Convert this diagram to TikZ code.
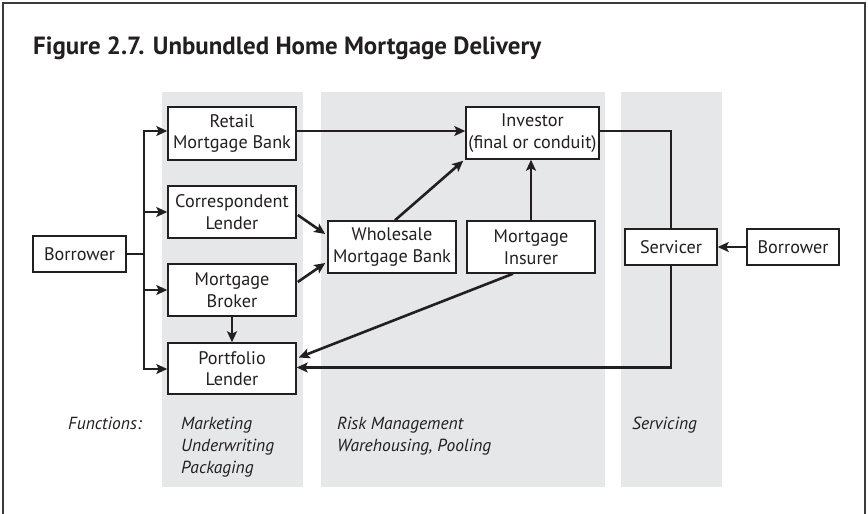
\documentclass[tikz,border=0pt]{standalone}
\usepackage{fontspec}
\setmainfont{PT Sans}
\usetikzlibrary{arrows.meta,calc}
\definecolor{band}{HTML}{E6E7E8}
\definecolor{ink}{HTML}{231F20}
\definecolor{framec}{HTML}{3A3A3A}
\begin{document}
\begin{tikzpicture}[x=1pt,y=-1pt,
  box/.style={draw=ink,line width=1.5pt,fill=white,align=center,inner sep=0pt,
    font=\fontsize{18.2}{21.5}\selectfont,text=ink},
  conn/.style={draw=ink,line width=2.6pt},
  arr/.style={conn,-{Stealth[length=11pt,width=10pt,inset=2.5pt]}},
  fn/.style={anchor=base west,inner sep=0pt,font=\fontsize{17.5}{22}\selectfont\itshape,text=ink}]
\useasboundingbox (0,0) rectangle (868,514);
\fill[white] (0,0) rectangle (868,514);
% bands
\fill[band] (162,92) rectangle (303,487);
\fill[band] (321,92) rectangle (605,487);
\fill[band] (621,92) rectangle (722,487);
% frame
\draw[framec,line width=2.5pt] (3,514) -- (3,3) -- (865,3) -- (865,514);
% title
\node[anchor=base west,inner sep=0pt,font=\fontsize{24.9}{28}\selectfont\bfseries,text=ink] (title) at (33,54) {Figure 2.7. Unbundled Home Mortgage Delivery};
% boxes
\node[box,minimum width=93pt,minimum height=36pt] (bl) at (79.5,254) {Borrower};
\node[box,minimum width=128pt,minimum height=53pt] (retail) at (232,133.5) {Retail\\Mortgage Bank};
\node[box,minimum width=128pt,minimum height=52pt] (corr) at (232,212) {Correspondent\\Lender};
\node[box,minimum width=128pt,minimum height=52pt] (broker) at (232,290) {Mortgage\\Broker};
\node[box,minimum width=128pt,minimum height=51pt] (port) at (232,368.5) {Portfolio\\Lender};
\node[box,minimum width=128pt,minimum height=52pt] (whole) at (392,247) {Wholesale\\Mortgage Bank};
\node[box,minimum width=128pt,minimum height=52pt] (ins) at (531,247) {Mortgage\\Insurer};
\node[box,minimum width=133pt,minimum height=52pt] (inv) at (532.5,133) {Investor\\(final or conduit)};
\node[box,minimum width=92pt,minimum height=36pt] (serv) at (671,247) {Servicer};
\node[box,minimum width=92pt,minimum height=36pt] (br) at (793,247) {Borrower};
% trunk
\coordinate (trT) at (144,131);
\coordinate (trB) at (144,369);
\draw[conn,line cap=rect] (trT) -- (trB);
\draw[conn] (bl.east) -- (bl.east -| trT);
\draw[arr] (trT) -- (trT -| retail.west);
\draw[arr] (trT |- corr) -- (corr);
\draw[arr] (trT |- broker) -- (broker);
\draw[arr] (trB) -- (trB -| port.west);
% other connectors
\draw[arr] ($(retail.east)+(0,-2.5)$) -- ($(retail.east -| inv.west)+(0,-2.5)$);
\draw[arr] ($(corr.east)+(1,3)$) -- ($(whole.west)+(-2,-13)$);
\draw[arr] ($(broker.east)+(1,-8)$) -- ($(whole.west)+(-2,16)$);
\draw[arr] ($(whole.north)+(3,0)$) -- ($(inv.south west)+(-2,1)$);
\draw[arr] (ins.north) -- (ins.north |- inv.south);
\draw[arr] ($(ins.south)+(-18,0)$) -- ($(port.east)+(2,-11)$);
\draw[arr] (broker.south) -- (port.north);
\draw[conn] ($(inv.east)+(0,-2)$) -| (serv.north);
\draw[arr] (serv.south) |- ($(port.east)+(0,-1)$);
\draw[arr] (br.west) -- (serv.east);
% function labels
\node[fn] (f0) at (68,429) {Functions:};
\node[fn] (f1) at (181,429) {Marketing};
\node[fn] (f2) at (181,451) {Underwriting};
\node[fn] (f3) at (181,473) {Packaging};
\node[fn] (f4) at (337,429) {Risk Management};
\node[fn] (f5) at (337,451) {Warehousing, Pooling};
\node[fn] (f6) at (632,429) {Servicing};
\end{tikzpicture}
\end{document}
